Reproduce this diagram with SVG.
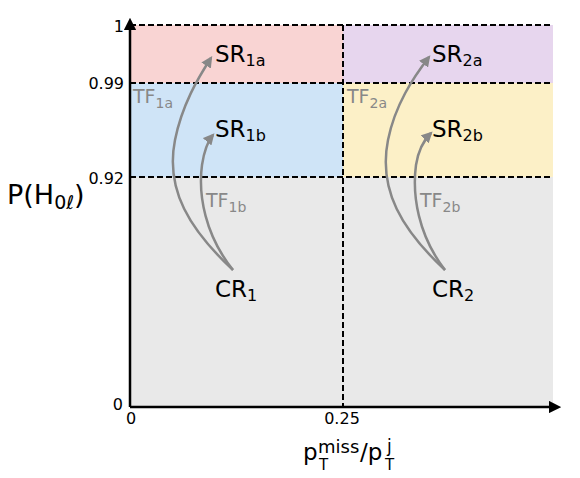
<svg xmlns="http://www.w3.org/2000/svg" width="580" height="478" viewBox="0 0 580 478">
<style>
text{font-family:"DejaVu Sans","Liberation Sans",sans-serif;}
.dash{stroke:#000;stroke-width:2;stroke-dasharray:6,3;fill:none;}
.tick{font-size:16px;fill:#000;}
.lab{font-size:23px;fill:#000;}
.sub{font-size:16px;}
.tf{font-size:19px;fill:#888;}
.tfsub{font-size:14px;}
.arr{stroke:#888;stroke-width:2.5;fill:none;}
</style>
<defs>
<marker id="ah" viewBox="0 0 10 10" refX="8" refY="5" markerWidth="4.5" markerHeight="4.5" orient="auto" markerUnits="strokeWidth">
<path d="M0,0 L10,5 L0,10 z" fill="#888"/>
</marker>
<marker id="axh" viewBox="0 0 10 10" refX="5" refY="5" markerWidth="5" markerHeight="5" orient="auto" markerUnits="strokeWidth">
<path d="M0,0 L10,5 L0,10 z" fill="#000"/>
</marker>
</defs>
<g id="regions">
<rect id="sr1a" x="130" y="25" width="213" height="58" fill="#f9d4d3"/>
<rect id="sr2a" x="343" y="25" width="210" height="58" fill="#e7d6ee"/>
<rect id="sr1b" x="130" y="83" width="213" height="94" fill="#cfe4f7"/>
<rect id="sr2b" x="343" y="83" width="210" height="94" fill="#fcf0c7"/>
<rect id="cr" x="130" y="177" width="423" height="230" fill="#e9e9e9"/>
</g>
<g id="grid">
<line class="dash" x1="130" y1="25" x2="553" y2="25"/>
<line class="dash" x1="130" y1="83" x2="553" y2="83"/>
<line class="dash" x1="130" y1="177" x2="553" y2="177"/>
<line class="dash" x1="343" y1="25" x2="343" y2="407"/>
</g>
<g id="axes">
<line x1="130" y1="407" x2="130" y2="24" stroke="#000" stroke-width="2.5" marker-end="url(#axh)"/>
<line x1="130" y1="407" x2="555" y2="407" stroke="#000" stroke-width="2.5" marker-end="url(#axh)"/>
<text class="tick" x="124" y="32" text-anchor="end">1</text>
<text class="tick" x="124" y="89" text-anchor="end">0.99</text>
<text class="tick" x="124" y="184" text-anchor="end">0.92</text>
<text class="tick" x="123" y="410" text-anchor="end" font-size="14">0</text>
<text class="tick" x="131" y="424" text-anchor="middle" font-size="14">0</text>
<text class="tick" x="342" y="424" text-anchor="middle">0.25</text>
<text x="7" y="204" font-size="27">P(H<tspan font-size="19" dy="5">0ℓ</tspan><tspan dy="-5">)</tspan></text>
<text font-size="23"><tspan x="303" y="460">p</tspan><tspan x="318" y="453" font-size="18">miss</tspan><tspan x="360" y="460">/p</tspan><tspan x="387" y="452" font-size="17">j</tspan><tspan x="319" y="470" font-size="15">T</tspan><tspan x="385" y="470" font-size="15">T</tspan></text>
</g>
<g id="connectors">
<path class="arr" d="M233,270 C190,230 165,190 175,140 C182,105 198,78 211,58" marker-end="url(#ah)"/>
<path class="arr" d="M233,270 C205,235 198,195 202,165 C204,152 207,142 213,135" marker-end="url(#ah)"/>
<path class="arr" d="M445,270 C402,230 378,190 388,140 C395,105 413,78 429,57" marker-end="url(#ah)"/>
<path class="arr" d="M445,270 C418,235 412,195 416,165 C418,152 422,142 431,133" marker-end="url(#ah)"/>
</g>
<g id="n-sr1a"><text class="lab" x="215" y="62">SR<tspan class="sub" dy="4">1a</tspan></text></g>
<g id="n-sr1b"><text class="lab" x="215" y="137">SR<tspan class="sub" dy="4">1b</tspan></text></g>
<g id="n-sr2a"><text class="lab" x="432" y="62">SR<tspan class="sub" dy="4">2a</tspan></text></g>
<g id="n-sr2b"><text class="lab" x="432" y="137">SR<tspan class="sub" dy="4">2b</tspan></text></g>
<g id="n-cr1"><text class="lab" x="215" y="297">CR<tspan class="sub" dy="4">1</tspan></text></g>
<g id="n-cr2"><text class="lab" x="432" y="297">CR<tspan class="sub" dy="4">2</tspan></text></g>
<g id="n-tf1a"><text class="tf" x="133" y="103">TF<tspan class="tfsub" dy="5">1a</tspan></text></g>
<g id="n-tf1b"><text class="tf" x="206" y="207">TF<tspan class="tfsub" dy="5">1b</tspan></text></g>
<g id="n-tf2a"><text class="tf" x="347" y="103">TF<tspan class="tfsub" dy="5">2a</tspan></text></g>
<g id="n-tf2b"><text class="tf" x="420" y="207">TF<tspan class="tfsub" dy="5">2b</tspan></text></g>
</svg>
